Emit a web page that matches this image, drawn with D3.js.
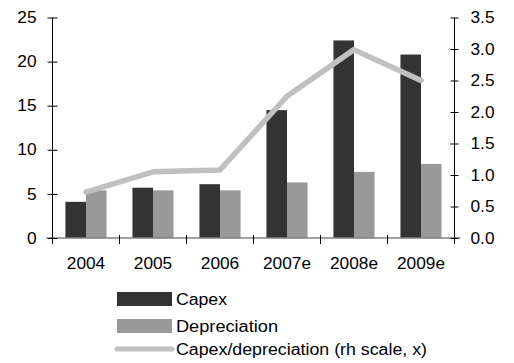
<!DOCTYPE html>
<html>
<head>
<meta charset="utf-8">
<script src="https://cdn.jsdelivr.net/npm/d3@7"></script>
<style>
  html, body { margin: 0; padding: 0; background: #fff; }
  svg { display: block; }
  text { font-family: "Liberation Sans", Arial, sans-serif; font-size: 16px; fill: #000; }
</style>
</head>
<body>
<script>
// Years on the category axis
const years = ["2004", "2005", "2006", "2007e", "2008e", "2009e"];
// Capital expenditure and depreciation (left scale)
const capex = [4.1, 5.7, 6.1, 14.5, 22.4, 20.8];
const depreciation = [5.4, 5.4, 5.4, 6.3, 7.5, 8.4];
// Capex / depreciation ratio (right scale, x)
const ratio = [0.73, 1.05, 1.08, 2.25, 2.99, 2.5];
// Tick values
const leftTicks = [0, 5, 10, 15, 20, 25];
const rightTicks = [0, 0.5, 1, 1.5, 2, 2.5, 3, 3.5];
const legendLabels = ["Capex", "Depreciation", "Capex/depreciation (rh scale, x)"];

const W = 514, H = 363;
const plotLeft = 52.5, plotRight = 454.5, plotTop = 17.5, plotBottom = 238;
const stretch = 1.08;

const svg = d3.select("body").append("svg").attr("width", W).attr("height", H);

const x = d3.scaleBand().domain(years).range([plotLeft, plotRight]).padding(0);
const sub = d3.scaleBand().domain(["capex", "dep"]).range([0, x.bandwidth()]).paddingInner(0).paddingOuter(0.63);
const yL = d3.scaleLinear().domain([0, 25]).range([plotBottom, plotTop]);
const yR = d3.scaleLinear().domain([0, 3.5]).range([plotBottom, plotTop]);

const colors = { capex: "#333333", dep: "#999999", ratio: "#c0c0c0" };

// Bars
const rows = years.map((yr, i) => ({ yr, capex: capex[i], dep: depreciation[i], ratio: ratio[i] }));
const g = svg.append("g");
["capex", "dep"].forEach(k => {
  g.selectAll("rect." + k).data(rows).enter().append("rect")
    .attr("class", k)
    .attr("x", d => x(d.yr) + sub(k))
    .attr("width", sub.bandwidth())
    .attr("y", d => yL(d[k]))
    .attr("height", d => yL(0) - yL(d[k]))
    .attr("fill", colors[k]);
});

// Horizontal baseline
svg.append("line")
  .attr("x1", plotLeft - 6).attr("x2", plotRight + 6)
  .attr("y1", plotBottom).attr("y2", plotBottom)
  .attr("stroke", "#808080").attr("stroke-width", 1.5);

// Ratio line
const line = d3.line().x(d => x(d.yr) + x.bandwidth() / 2).y(d => yR(d.ratio));
svg.append("path").datum(rows)
  .attr("d", line)
  .attr("fill", "none")
  .attr("stroke", colors.ratio)
  .attr("stroke-width", 5.5)
  .attr("stroke-linejoin", "round")
  .attr("stroke-linecap", "round");

function widen(sel) {
  sel.selectAll("text").each(function () {
    const t = d3.select(this);
    const xx = +t.attr("x") || 0;
    t.attr("x", xx / stretch).attr("transform", `scale(${stretch},1)`);
  });
}

// Left axis
const axL = svg.append("g").attr("transform", `translate(${plotLeft},0)`)
  .call(d3.axisLeft(yL).tickValues(leftTicks).tickFormat(d3.format("d")).tickSize(5).tickPadding(11));
axL.select(".domain").attr("stroke", "#000").attr("d", `M0,${plotTop}V${plotBottom}`);
axL.selectAll(".tick line").attr("x1", 5).attr("x2", -5).attr("stroke", "#000");
axL.attr("font-size", null).attr("font-family", null);
widen(axL);

// Right axis
const axR = svg.append("g").attr("transform", `translate(${plotRight},0)`)
  .call(d3.axisRight(yR).tickValues(rightTicks).tickFormat(d3.format(".1f")).tickSize(5).tickPadding(11));
axR.select(".domain").attr("stroke", "#000").attr("d", `M0,${plotTop}V${plotBottom}`);
axR.selectAll(".tick line").attr("x1", -4).attr("x2", 4).attr("stroke", "#000");
axR.attr("font-size", null).attr("font-family", null);
widen(axR);

// Category axis: ticks at band boundaries, labels centred in bands
const bounds = years.map(yr => x(yr)).concat([plotRight]);
svg.append("g").selectAll("line").data(bounds).enter().append("line")
  .attr("x1", d => d).attr("x2", d => d)
  .attr("y1", plotBottom - 3).attr("y2", plotBottom + 6)
  .attr("stroke", "#000");
const xl = svg.append("g");
xl.selectAll("g").data(years).enter().append("g")
  .attr("transform", d => `translate(${x(d) + x.bandwidth() / 2},269)`)
  .append("text")
  .attr("text-anchor", "middle")
  .text(d => d);
widen(xl);

// Legend
const lg = svg.append("g");
const lx = 117, lw = 55;
const items = [
  { label: legendLabels[0], type: "rect", color: colors.capex, cy: 299, len: 51 },
  { label: legendLabels[1], type: "rect", color: colors.dep, cy: 326, len: 102 },
  { label: legendLabels[2], type: "line", color: colors.ratio, cy: 349, len: 251 }
];
items.forEach(it => {
  if (it.type === "rect") {
    lg.append("rect").attr("x", lx).attr("y", it.cy - 7).attr("width", lw).attr("height", 14).attr("fill", it.color);
  } else {
    lg.append("line").attr("x1", lx).attr("x2", lx + lw).attr("y1", it.cy).attr("y2", it.cy)
      .attr("stroke", it.color).attr("stroke-width", 5).attr("stroke-linecap", "round");
  }
  lg.append("text")
    .attr("x", 176).attr("y", it.cy + 6)
    .attr("textLength", it.len)
    .attr("lengthAdjust", "spacingAndGlyphs")
    .text(it.label);
});
</script>
</body>
</html>
